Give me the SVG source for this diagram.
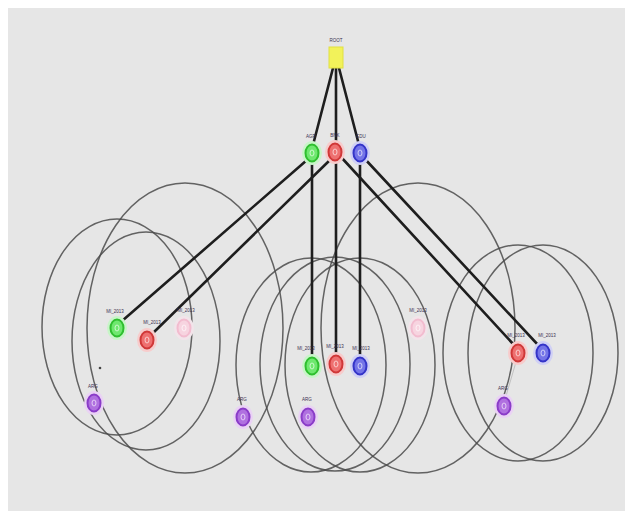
<svg xmlns="http://www.w3.org/2000/svg" width="633" height="511" viewBox="0 0 633 511">
  <style>
    .ring { fill: none; stroke: #4a4a4a; stroke-width: 1.5; stroke-opacity: 0.85; }
    .edge { stroke: #1e1e1e; stroke-width: 2.6; stroke-linecap: round; fill: none; }
    .lbl { font-family: "Liberation Sans", Arial, sans-serif; font-size: 4.5px; fill: #3a3050; text-anchor: middle; }
    .halo { fill: var(--halo); }
    .body { fill: var(--fill); stroke: var(--line); stroke-width: 2; }
    .core { fill: none; stroke: #ffffff; stroke-width: 0.8; opacity: 0.8; }
    .green { --halo: #c8f5c8; --fill: #6ee86e; --line: #2fbf2f; }
    .red { --halo: #f7cccc; --fill: #ee7070; --line: #d03838; }
    .blue { --halo: #d0d0f5; --fill: #7474e8; --line: #3434c8; }
    .pink { --halo: #f2e4ea; --fill: #f7d4e0; --line: #f2bccf; }
    .purple { --halo: #ead2f5; --fill: #b070e0; --line: #8a3cc8; }
  </style>
  <defs>
    <g id="dot">
      <ellipse class="halo" cx="0" cy="0" rx="10" ry="12"/>
      <ellipse class="body" cx="0" cy="0" rx="6.5" ry="8.5"/>
      <ellipse class="core" cx="0" cy="0" rx="2" ry="3"/>
    </g>
  </defs>

  <rect x="0" y="0" width="633" height="511" fill="#ffffff"/>
  <rect x="8" y="8" width="617" height="503" fill="#e6e6e6"/>

  <!-- range rings around the lower nodes -->
  <g id="rings">
    <ellipse class="ring" cx="117" cy="327" rx="75" ry="108"/>
    <ellipse class="ring" cx="146" cy="341" rx="74" ry="109"/>
    <ellipse class="ring" cx="185" cy="328" rx="98" ry="145"/>
    <ellipse class="ring" cx="311" cy="365" rx="75" ry="107"/>
    <ellipse class="ring" cx="335" cy="364" rx="75" ry="107"/>
    <ellipse class="ring" cx="360" cy="365" rx="75" ry="107"/>
    <ellipse class="ring" cx="418" cy="328" rx="97" ry="145"/>
    <ellipse class="ring" cx="518" cy="353" rx="75" ry="108"/>
    <ellipse class="ring" cx="543" cy="353" rx="75" ry="108"/>
  </g>

  <!-- connectors -->
  <g id="edges">
    <line class="edge" x1="333" y1="68" x2="313" y2="145"/>
    <line class="edge" x1="336" y1="68" x2="336" y2="143"/>
    <line class="edge" x1="339" y1="68" x2="359" y2="145"/>
    <line class="edge" x1="307" y1="160" x2="122" y2="321"/>
    <line class="edge" x1="331" y1="159" x2="152" y2="334"/>
    <line class="edge" x1="312" y1="161" x2="312" y2="358"/>
    <line class="edge" x1="336" y1="160" x2="336" y2="356"/>
    <line class="edge" x1="360" y1="161" x2="360" y2="358"/>
    <line class="edge" x1="341" y1="157" x2="514" y2="345"/>
    <line class="edge" x1="364" y1="158" x2="539" y2="346"/>
    <line x1="516" y1="362" x2="506" y2="396" stroke="#b8b8b8" stroke-width="0.8"/>
  </g>

  <!-- nodes -->
  <g id="root">
    <rect x="329" y="47" width="14" height="21" fill="#f2f25a" stroke="#e0e040" stroke-width="1"/>
    <text class="lbl" x="336" y="42">ROOT</text>
  </g>
  <g id="top-green" class="green"><use href="#dot" x="312" y="153"/><text class="lbl" x="311" y="138">AGR</text></g>
  <g id="top-red" class="red"><use href="#dot" x="335" y="152"/><text class="lbl" x="335" y="137">BNK</text></g>
  <g id="top-blue" class="blue"><use href="#dot" x="360" y="153"/><text class="lbl" x="361" y="138">EDU</text></g>

  <g id="left-green" class="green"><use href="#dot" x="117" y="328"/><text class="lbl" x="115" y="313">MI_2013</text></g>
  <g id="left-red" class="red"><use href="#dot" x="147" y="340"/><text class="lbl" x="152" y="324">MI_2013</text></g>
  <g id="left-pink" class="pink"><use href="#dot" x="184" y="328"/><text class="lbl" x="186" y="312">MI_2013</text></g>
  <g id="left-mark"><circle cx="100" cy="368" r="1.3" fill="#444"/></g>
  <g id="left-purple" class="purple"><use href="#dot" x="94" y="403"/><text class="lbl" x="93" y="388">ARG</text></g>

  <g id="mid-purple-a" class="purple"><use href="#dot" x="243" y="417"/><text class="lbl" x="242" y="401">ARG</text></g>
  <g id="mid-purple-b" class="purple"><use href="#dot" x="308" y="417"/><text class="lbl" x="307" y="401">ARG</text></g>
  <g id="mid-green" class="green"><use href="#dot" x="312" y="366"/><text class="lbl" x="306" y="350">MI_2013</text></g>
  <g id="mid-red" class="red"><use href="#dot" x="336" y="364"/><text class="lbl" x="335" y="348">MI_2013</text></g>
  <g id="mid-blue" class="blue"><use href="#dot" x="360" y="366"/><text class="lbl" x="361" y="350">MI_2013</text></g>
  <g id="mid-pink" class="pink"><use href="#dot" x="418" y="328"/><text class="lbl" x="418" y="312">MI_2013</text></g>

  <g id="right-red" class="red"><use href="#dot" x="518" y="353"/><text class="lbl" x="516" y="337">MI_2013</text></g>
  <g id="right-blue" class="blue"><use href="#dot" x="543" y="353"/><text class="lbl" x="547" y="337">MI_2013</text></g>
  <g id="right-purple" class="purple"><use href="#dot" x="504" y="406"/><text class="lbl" x="503" y="390">ARG</text></g>
</svg>
